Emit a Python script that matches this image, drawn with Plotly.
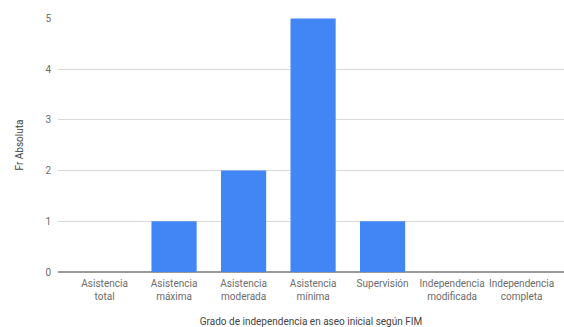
import plotly.graph_objects as go

categories = [
    "Asistencia<br>total",
    "Asistencia<br>máxima",
    "Asistencia<br>moderada",
    "Asistencia<br>mínima",
    "Supervisión",
    "Independencia<br>modificada",
    "Independencia<br>completa",
]
frecuencia = [0, 1, 2, 5, 1, 0, 0]
y_ticks = [0, 1, 2, 3, 4, 5]

fig = go.Figure(
    go.Bar(
        x=list(range(len(categories))),
        y=frecuencia,
        marker=dict(color="#4285F4", line=dict(width=0)),
        width=0.65,
    )
)

fig.update_layout(
    width=564,
    height=327,
    margin=dict(l=58, r=0, t=18, b=55),
    paper_bgcolor="white",
    plot_bgcolor="white",
    font=dict(family="Roboto, Arial, sans-serif", size=10, color="#555555"),
    showlegend=False,
    xaxis=dict(
        range=[-0.67, 6.61],
        tickmode="array",
        tickvals=list(range(len(categories))),
        ticktext=categories,
        showgrid=False,
        showline=False,
        zeroline=False,
        ticks="",
        ticklabelstandoff=4,
        tickfont=dict(size=10, color="#6b6b6b"),
        title=dict(
            text="Grado de independencia en aseo inicial según FIM",
            font=dict(size=10, color="#444444"),
            standoff=16,
        ),
    ),
    yaxis=dict(
        range=[0, 5.01],
        tickmode="array",
        tickvals=y_ticks,
        showgrid=True,
        gridcolor="#d9d9d9",
        gridwidth=1,
        zeroline=True,
        zerolinecolor="#9a9a9a",
        zerolinewidth=1.5,
        showline=False,
        ticks="",
        ticklabelstandoff=6,
        tickfont=dict(size=10, color="#6b6b6b"),
        title=dict(
            text="Fr Absoluta",
            font=dict(size=10, color="#444444"),
            standoff=19,
        ),
    ),
)

fig.write_html("out.html")
